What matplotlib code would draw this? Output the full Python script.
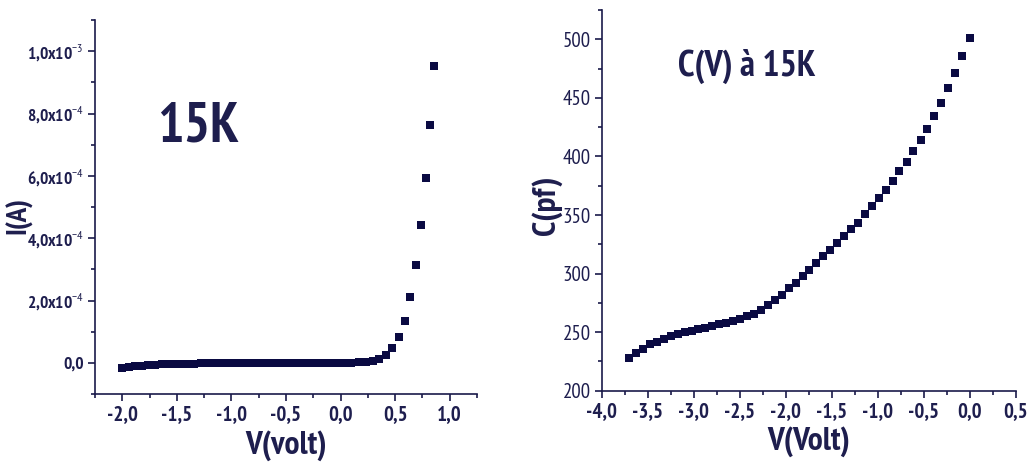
import matplotlib
matplotlib.use("Agg")
import matplotlib.pyplot as plt
from matplotlib import font_manager
from matplotlib.ticker import MultipleLocator

# pick an installed narrow sans family (closest to Arial Narrow Bold)
_prefs = ['Liberation Sans Narrow', 'Arial Narrow', 'Archivo Narrow', 'PT Sans Narrow',
          'Roboto Condensed', 'Open Sans Condensed', 'Liberation Sans']
_fonts = {}
for _f in font_manager.fontManager.ttflist:
    _fonts.setdefault(_f.name, set()).add(_f.weight)
narrow = 'Liberation Sans'
for _p in _prefs:
    if _p in _fonts and any((w if isinstance(w, int) else 400) >= 700 for w in _fonts[_p]):
        narrow = _p
        break

plt.rcParams['font.family'] = [narrow, 'Liberation Sans', 'DejaVu Sans']
plt.rcParams['mathtext.fontset'] = 'custom'
plt.rcParams['mathtext.rm'] = narrow
plt.rcParams['mathtext.bf'] = narrow + ':bold'

# ---- Left panel: I(V) at 15K ----
iv_voltage = [-2.00, -1.94, -1.88, -1.82, -1.76, -1.70, -1.64, -1.58, -1.52, -1.46,
              -1.40, -1.34, -1.28, -1.22, -1.16, -1.10, -1.04, -0.98, -0.92, -0.86,
              -0.80, -0.74, -0.68, -0.62, -0.56, -0.50, -0.44, -0.38, -0.32, -0.26,
              -0.20, -0.14, -0.08, -0.02, 0.04, 0.10, 0.172, 0.233, 0.295, 0.355,
              0.417, 0.475, 0.533, 0.588, 0.636, 0.688, 0.734, 0.780, 0.819, 0.859]
iv_current = [-1.6e-5, -1.3e-5, -1.1e-5, -0.9e-5, -0.75e-5, -0.6e-5, -0.5e-5, -0.42e-5, -0.36e-5, -0.3e-5,
              -0.26e-5, -0.22e-5, -0.19e-5, -0.16e-5, -0.14e-5, -0.12e-5, -0.1e-5, -0.09e-5, -0.08e-5, -0.07e-5,
              -0.06e-5, -0.05e-5, -0.04e-5, -0.04e-5, -0.03e-5, -0.03e-5, -0.02e-5, -0.02e-5, -0.01e-5, -0.01e-5,
              0.0, 0.0, 0.0, 0.01e-5, 0.03e-5, 0.08e-5, 0.15e-5, 0.3e-5, 0.6e-5, 1.3e-5,
              2.6e-5, 4.8e-5, 8.4e-5, 13.4e-5, 21.1e-5, 31.3e-5, 44.1e-5, 59.2e-5, 76.4e-5, 95.1e-5]
iv_xticks = [-2.0, -1.5, -1.0, -0.5, 0.0, 0.5, 1.0]
iv_xticklabels = ['-2,0', '-1,5', '-1,0', '-0,5', '0,0', '0,5', '1,0']
iv_yticks = [0.0, 2e-4, 4e-4, 6e-4, 8e-4, 1e-3]
iv_yticklabels = ['0,0', r'2,0x10$^{-4}$', r'4,0x10$^{-4}$', r'6,0x10$^{-4}$',
                  r'8,0x10$^{-4}$', r'1,0x10$^{-3}$']

# ---- Right panel: C(V) at 15K ----
cv_voltage = [-3.703, -3.627, -3.554, -3.475, -3.399, -3.322, -3.250, -3.174, -3.094, -3.022,
              -2.949, -2.873, -2.797, -2.721, -2.652, -2.576, -2.500, -2.424, -2.344, -2.268,
              -2.196, -2.120, -2.043, -1.967, -1.891, -1.815, -1.743, -1.667, -1.591, -1.514,
              -1.438, -1.366, -1.290, -1.214, -1.138, -1.062, -0.986, -0.913, -0.837, -0.764,
              -0.685, -0.612, -0.533, -0.460, -0.384, -0.308, -0.232, -0.156, -0.080, 0.000]
cv_capacitance = [228.1, 232.6, 236.0, 239.5, 242.0, 244.3, 246.3, 248.3, 249.7, 251.1,
                  252.5, 253.6, 255.0, 256.8, 258.2, 259.6, 261.6, 263.6, 265.9, 269.3,
                  273.5, 277.8, 282.0, 287.4, 292.2, 297.6, 303.3, 308.7, 314.7, 320.1,
                  326.0, 332.0, 337.7, 343.6, 350.7, 357.5, 364.1, 371.7, 379.4, 387.3,
                  395.3, 404.4, 414.0, 423.7, 434.7, 445.8, 458.6, 471.1, 485.8, 501.2]
cv_xticks = [-4.0, -3.5, -3.0, -2.5, -2.0, -1.5, -1.0, -0.5, 0.0, 0.5]
cv_xticklabels = ['-4,0', '-3,5', '-3,0', '-2,5', '-2,0', '-1,5', '-1,0', '-0,5', '0,0', '0,5']
cv_yticks = [200, 250, 300, 350, 400, 450, 500]
cv_yticklabels = ['200', '250', '300', '350', '400', '450', '500']

marker_color = '#0a0a42'
text_color = '#1e1e4e'
axis_color = '#1a1a4a'

fig = plt.figure(figsize=(10.3, 4.7), dpi=100)
ax1 = fig.add_axes([0.0922, 0.1617, 0.3709, 0.7957])
ax2 = fig.add_axes([0.5842, 0.1687, 0.4019, 0.8100])

for ax in (ax1, ax2):
    for s in ('top', 'right'):
        ax.spines[s].set_visible(False)
    for s in ('left', 'bottom'):
        ax.spines[s].set_color(axis_color)
        ax.spines[s].set_linewidth(1.2)
    ax.tick_params(which='major', direction='out', length=5, width=1.2, color=axis_color,
                   labelcolor=text_color, pad=3)
    ax.tick_params(which='minor', direction='out', length=3, width=1.2, color=axis_color)

ax1.plot(iv_voltage, iv_current, linestyle='none', marker='s', markersize=5.2,
         color=marker_color, markeredgewidth=0)
ax1.set_xlim(-2.25, 1.25)
ax1.set_ylim(-1e-4, 1.1e-3)
ax1.set_xticks(iv_xticks, iv_xticklabels, fontsize=15, fontweight='bold')
ax1.set_yticks(iv_yticks, iv_yticklabels, fontsize=12.5, fontweight='bold')
ax1.xaxis.set_minor_locator(MultipleLocator(0.25))
ax1.yaxis.set_minor_locator(MultipleLocator(1e-4))
ax1.set_xlabel('V(volt)', fontsize=24, fontweight='bold', color=text_color, labelpad=4)
ax1.set_ylabel('I(A)', fontsize=21, fontweight='bold', color=text_color)
ax1.yaxis.set_label_coords(-0.163, 0.478)
ax1.text(0.27, 0.715, '15K', transform=ax1.transAxes, fontsize=40, fontweight='bold',
         color=text_color, ha='center', va='center')

ax2.plot(cv_voltage, cv_capacitance, linestyle='none', marker='s', markersize=5.4,
         color=marker_color, markeredgewidth=0)
ax2.set_xlim(-4.0, 0.5)
ax2.set_ylim(200, 525)
ax2.set_xticks(cv_xticks, cv_xticklabels, fontsize=15, fontweight='bold')
ax2.set_yticks(cv_yticks, cv_yticklabels, fontsize=15)
ax2.xaxis.set_minor_locator(MultipleLocator(0.25))
ax2.yaxis.set_minor_locator(MultipleLocator(25))
ax2.set_xlabel('V(Volt)', fontsize=24, fontweight='bold', color=text_color, labelpad=4)
ax2.set_ylabel('C(pf)', fontsize=24, fontweight='bold', color=text_color)
ax2.yaxis.set_label_coords(-0.097, 0.487)
ax2.text(0.35, 0.852, 'C(V) à 15K', transform=ax2.transAxes, fontsize=26, fontweight='bold',
         color=text_color, ha='center', va='center')

fig.savefig('out.png', dpi=100)
